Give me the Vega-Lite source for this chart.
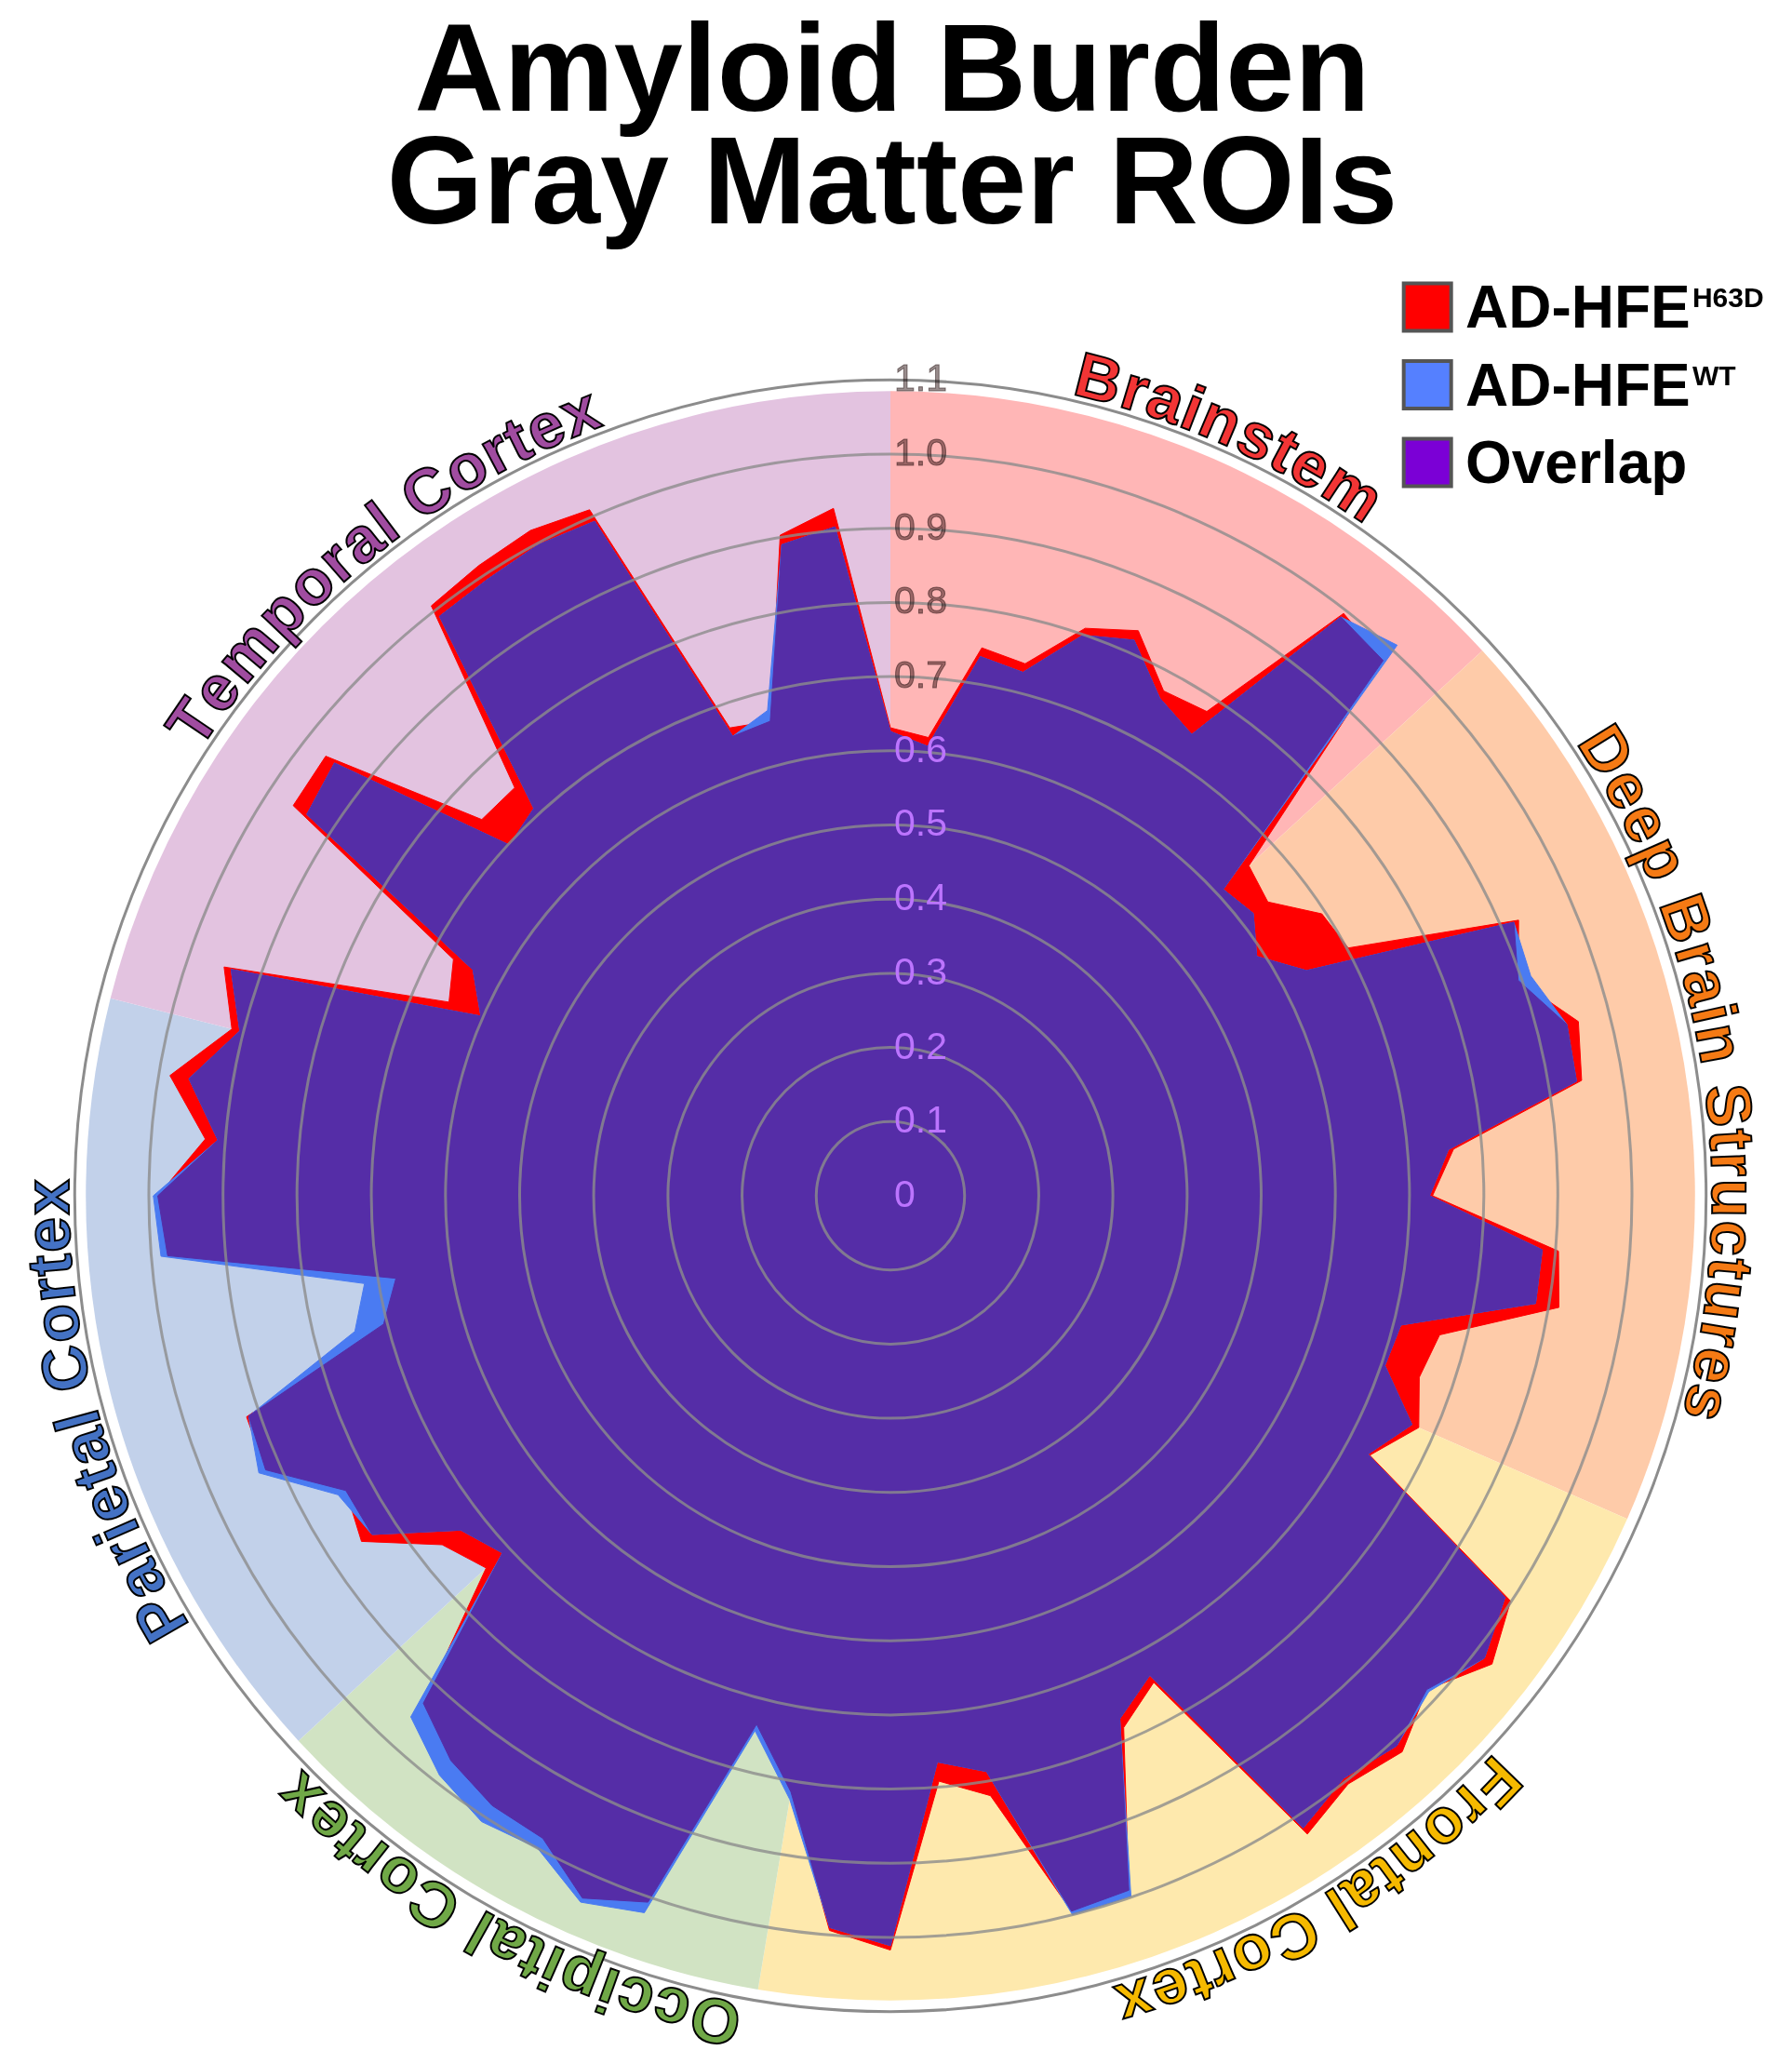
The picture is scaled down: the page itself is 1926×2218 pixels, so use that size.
{
  "$schema": "https://vega.github.io/schema/vega-lite/v6.json",
  "width": 1926,
  "height": 2218,
  "autosize": {"type": "none"},
  "padding": 0,
  "background": "white",
  "config": {"view": {"stroke": null}},
  "title": {
    "text": ["Amyloid Burden", "Gray Matter ROIs"],
    "font": "Liberation Sans",
    "fontSize": 133,
    "fontWeight": "bold",
    "color": "#000000",
    "anchor": "middle",
    "frame": "group",
    "offset": 0,
    "baseline": "alphabetic",
    "lineHeight": 121,
    "dx": -4,
    "dy": 373
  },
  "datasets": {
    "roi": [
      {"k": 0, "h": 0.631, "w": 0.626}, {"k": 1, "h": 0.620, "w": 0.608}, {"k": 2, "h": 0.749, "w": 0.737}, {"k": 3, "h": 0.740, "w": 0.728},
      {"k": 4, "h": 0.809, "w": 0.799}, {"k": 5, "h": 0.832, "w": 0.818}, {"k": 6, "h": 0.774, "w": 0.763}, {"k": 7, "h": 0.780, "w": 0.743},
      {"k": 8, "h": 0.995, "w": 0.989}, {"k": 9, "h": 0.981, "w": 1.009}, {"k": 10, "h": 0.657, "w": 0.610}, {"k": 11, "h": 0.645, "w": 0.620},
      {"k": 12, "h": 0.695, "w": 0.590}, {"k": 13, "h": 0.702, "w": 0.638}, {"k": 14, "h": 0.925, "w": 0.918}, {"k": 15, "h": 0.895, "w": 0.913},
      {"k": 16, "h": 0.957, "w": 0.941}, {"k": 17, "h": 0.945, "w": 0.938}, {"k": 18, "h": 0.762, "w": 0.755}, {"k": 19, "h": 0.731, "w": 0.727},
      {"k": 20, "h": 0.904, "w": 0.882}, {"k": 21, "h": 0.914, "w": 0.882}, {"k": 22, "h": 0.764, "w": 0.710}, {"k": 23, "h": 0.754, "w": 0.705},
      {"k": 24, "h": 0.778, "w": 0.768}, {"k": 25, "h": 0.735, "w": 0.732}, {"k": 26, "h": 0.999, "w": 0.990}, {"k": 27, "h": 1.028, "w": 1.015},
      {"k": 28, "h": 0.983, "w": 0.987}, {"k": 29, "h": 1.019, "w": 1.008}, {"k": 30, "h": 1.005, "w": 0.995}, {"k": 31, "h": 1.028, "w": 1.018},
      {"k": 32, "h": 0.746, "w": 0.735}, {"k": 33, "h": 0.783, "w": 0.770}, {"k": 34, "h": 0.990, "w": 0.999}, {"k": 35, "h": 0.995, "w": 1.000},
      {"k": 36, "h": 0.820, "w": 0.787}, {"k": 37, "h": 0.792, "w": 0.766}, {"k": 38, "h": 1.017, "w": 1.011}, {"k": 39, "h": 0.994, "w": 0.990},
      {"k": 40, "h": 0.815, "w": 0.825}, {"k": 41, "h": 0.735, "w": 0.744}, {"k": 42, "h": 1.007, "w": 1.022}, {"k": 43, "h": 1.034, "w": 1.040},
      {"k": 44, "h": 0.985, "w": 1.000}, {"k": 45, "h": 0.982, "w": 1.008}, {"k": 46, "h": 0.965, "w": 0.990}, {"k": 47, "h": 0.930, "w": 0.955},
      {"k": 48, "h": 0.741, "w": 0.711}, {"k": 49, "h": 0.766, "w": 0.734}, {"k": 50, "h": 0.852, "w": 0.835}, {"k": 51, "h": 0.835, "w": 0.847},
      {"k": 52, "h": 0.920, "w": 0.930}, {"k": 53, "h": 0.918, "w": 0.915}, {"k": 54, "h": 0.705, "w": 0.745}, {"k": 55, "h": 0.676, "w": 0.719},
      {"k": 56, "h": 0.978, "w": 0.987}, {"k": 57, "h": 0.988, "w": 0.994}, {"k": 58, "h": 0.927, "w": 0.910}, {"k": 59, "h": 0.985, "w": 0.959},
      {"k": 60, "h": 0.916, "w": 0.905}, {"k": 61, "h": 0.950, "w": 0.940}, {"k": 62, "h": 0.650, "w": 0.603}, {"k": 63, "h": 0.670, "w": 0.640},
      {"k": 64, "h": 0.962, "w": 0.940}, {"k": 65, "h": 0.965, "w": 0.950}, {"k": 66, "h": 0.749, "w": 0.698}, {"k": 67, "h": 0.748, "w": 0.710},
      {"k": 68, "h": 1.008, "w": 0.990}, {"k": 69, "h": 1.015, "w": 0.993}, {"k": 70, "h": 1.020, "w": 0.998}, {"k": 71, "h": 1.010, "w": 0.993},
      {"k": 72, "h": 0.667, "w": 0.655}, {"k": 73, "h": 0.660, "w": 0.675}, {"k": 74, "h": 0.903, "w": 0.890}, {"k": 75, "h": 0.930, "w": 0.905}
    ],
    "sectors": [
      {"region": "Brainstem", "k0": 0, "k1": 10},
      {"region": "Deep Brain Structures", "k0": 10, "k1": 24},
      {"region": "Frontal Cortex", "k0": 24, "k1": 40},
      {"region": "Occipital Cortex", "k0": 40, "k1": 48},
      {"region": "Parietal Cortex", "k0": 48, "k1": 60},
      {"region": "Temporal Cortex", "k0": 60, "k1": 76}
    ],
    "rings": [
      {"lv": 0, "t": "0"}, {"lv": 0.1, "t": "0.1"}, {"lv": 0.2, "t": "0.2"}, {"lv": 0.3, "t": "0.3"},
      {"lv": 0.4, "t": "0.4"}, {"lv": 0.5, "t": "0.5"}, {"lv": 0.6, "t": "0.6"}, {"lv": 0.7, "t": "0.7"},
      {"lv": 0.8, "t": "0.8"}, {"lv": 0.9, "t": "0.9"}, {"lv": 1.0, "t": "1.0"}, {"lv": 1.1, "t": "1.1"}
    ],
    "chars": [
      {"g": "Brainstem", "c": "B", "a": 14.31}, {"g": "Brainstem", "c": "r", "a": 16.89}, {"g": "Brainstem", "c": "a", "a": 19.09},
      {"g": "Brainstem", "c": "i", "a": 21.03}, {"g": "Brainstem", "c": "n", "a": 23.10}, {"g": "Brainstem", "c": "s", "a": 25.81},
      {"g": "Brainstem", "c": "t", "a": 27.88}, {"g": "Brainstem", "c": "e", "a": 29.94}, {"g": "Brainstem", "c": "m", "a": 33.30},
      {"g": "Deep Brain Structures", "c": "D", "a": 58.13}, {"g": "Deep Brain Structures", "c": "e", "a": 61.10},
      {"g": "Deep Brain Structures", "c": "e", "a": 63.69}, {"g": "Deep Brain Structures", "c": "p", "a": 66.40},
      {"g": "Deep Brain Structures", "c": "B", "a": 70.79}, {"g": "Deep Brain Structures", "c": "r", "a": 73.38},
      {"g": "Deep Brain Structures", "c": "a", "a": 75.57}, {"g": "Deep Brain Structures", "c": "i", "a": 77.51},
      {"g": "Deep Brain Structures", "c": "n", "a": 79.58}, {"g": "Deep Brain Structures", "c": "S", "a": 83.84},
      {"g": "Deep Brain Structures", "c": "t", "a": 86.17}, {"g": "Deep Brain Structures", "c": "r", "a": 87.85},
      {"g": "Deep Brain Structures", "c": "u", "a": 90.17}, {"g": "Deep Brain Structures", "c": "c", "a": 92.89},
      {"g": "Deep Brain Structures", "c": "t", "a": 94.95}, {"g": "Deep Brain Structures", "c": "u", "a": 97.15},
      {"g": "Deep Brain Structures", "c": "r", "a": 99.47}, {"g": "Deep Brain Structures", "c": "e", "a": 101.67},
      {"g": "Deep Brain Structures", "c": "s", "a": 104.25},
      {"g": "Frontal Cortex", "c": "F", "a": 134.03}, {"g": "Frontal Cortex", "c": "r", "a": 136.36}, {"g": "Frontal Cortex", "c": "o", "a": 138.68},
      {"g": "Frontal Cortex", "c": "n", "a": 141.52}, {"g": "Frontal Cortex", "c": "t", "a": 143.72}, {"g": "Frontal Cortex", "c": "a", "a": 145.78},
      {"g": "Frontal Cortex", "c": "l", "a": 147.72}, {"g": "Frontal Cortex", "c": "C", "a": 151.34}, {"g": "Frontal Cortex", "c": "o", "a": 154.44},
      {"g": "Frontal Cortex", "c": "r", "a": 156.77}, {"g": "Frontal Cortex", "c": "t", "a": 158.44}, {"g": "Frontal Cortex", "c": "e", "a": 160.51},
      {"g": "Frontal Cortex", "c": "x", "a": 163.10},
      {"g": "Occipital Cortex", "c": "O", "a": 191.98}, {"g": "Occipital Cortex", "c": "c", "a": 195.08}, {"g": "Occipital Cortex", "c": "c", "a": 197.67},
      {"g": "Occipital Cortex", "c": "i", "a": 199.60}, {"g": "Occipital Cortex", "c": "p", "a": 201.67}, {"g": "Occipital Cortex", "c": "i", "a": 203.74},
      {"g": "Occipital Cortex", "c": "t", "a": 205.16}, {"g": "Occipital Cortex", "c": "a", "a": 207.23}, {"g": "Occipital Cortex", "c": "l", "a": 209.16},
      {"g": "Occipital Cortex", "c": "C", "a": 212.78}, {"g": "Occipital Cortex", "c": "o", "a": 215.88}, {"g": "Occipital Cortex", "c": "r", "a": 218.21},
      {"g": "Occipital Cortex", "c": "t", "a": 219.89}, {"g": "Occipital Cortex", "c": "e", "a": 221.95}, {"g": "Occipital Cortex", "c": "x", "a": 224.54},
      {"g": "Parietal Cortex", "c": "P", "a": 239.94}, {"g": "Parietal Cortex", "c": "a", "a": 242.78}, {"g": "Parietal Cortex", "c": "r", "a": 244.98},
      {"g": "Parietal Cortex", "c": "i", "a": 246.53}, {"g": "Parietal Cortex", "c": "e", "a": 248.47}, {"g": "Parietal Cortex", "c": "t", "a": 250.54},
      {"g": "Parietal Cortex", "c": "a", "a": 252.61}, {"g": "Parietal Cortex", "c": "l", "a": 254.54}, {"g": "Parietal Cortex", "c": "C", "a": 258.16},
      {"g": "Parietal Cortex", "c": "o", "a": 261.26}, {"g": "Parietal Cortex", "c": "r", "a": 263.59}, {"g": "Parietal Cortex", "c": "t", "a": 265.27},
      {"g": "Parietal Cortex", "c": "e", "a": 267.33}, {"g": "Parietal Cortex", "c": "x", "a": 269.92},
      {"g": "Temporal Cortex", "c": "T", "a": 304.15}, {"g": "Temporal Cortex", "c": "e", "a": 306.86}, {"g": "Temporal Cortex", "c": "m", "a": 310.22},
      {"g": "Temporal Cortex", "c": "p", "a": 313.71}, {"g": "Temporal Cortex", "c": "o", "a": 316.55}, {"g": "Temporal Cortex", "c": "r", "a": 318.87},
      {"g": "Temporal Cortex", "c": "a", "a": 321.07}, {"g": "Temporal Cortex", "c": "l", "a": 323.01}, {"g": "Temporal Cortex", "c": "C", "a": 326.63},
      {"g": "Temporal Cortex", "c": "o", "a": 329.73}, {"g": "Temporal Cortex", "c": "r", "a": 332.05}, {"g": "Temporal Cortex", "c": "t", "a": 333.73},
      {"g": "Temporal Cortex", "c": "e", "a": 335.80}, {"g": "Temporal Cortex", "c": "x", "a": 338.38}
    ],
    "legend": [
      {"item": "H63D", "name": "AD-HFE", "sup": "H63D"},
      {"item": "WT", "name": "AD-HFE", "sup": "WT"},
      {"item": "Overlap", "name": "Overlap", "sup": ""}
    ]
  },
  "resolve": {"scale": {"y": "independent", "color": "independent"}},
  "layer": [
    {
      "data": {"name": "sectors"},
      "transform": [
        {"calculate": "datum.k0 * 360 / 76", "as": "a0"},
        {"calculate": "datum.k1 * 360 / 76", "as": "a1"}
      ],
      "mark": {"type": "arc", "strokeWidth": 0},
      "encoding": {
        "x": {"datum": 0, "type": "quantitative", "scale": {"domain": [-1.20075, 1.21581], "nice": false, "zero": false}, "axis": null},
        "y": {"datum": 0, "type": "quantitative", "scale": {"domain": [-1.17064, 1.61229], "nice": false, "zero": false}, "axis": null},
        "theta": {"field": "a0", "type": "quantitative", "stack": null, "scale": {"domain": [0, 360], "range": [0, 6.283185307179586]}},
        "theta2": {"field": "a1"},
        "radius": {"datum": 1.085, "type": "quantitative", "stack": null, "scale": {"type": "linear", "domain": [0, 1], "range": [0, 797], "zero": true, "nice": false}},
        "color": {
          "field": "region", "type": "nominal", "legend": null,
          "scale": {
            "domain": ["Brainstem", "Deep Brain Structures", "Frontal Cortex", "Occipital Cortex", "Parietal Cortex", "Temporal Cortex"],
            "range": ["#ffb6b6", "#fecba9", "#fee9ad", "#d1e3c3", "#c2d1ea", "#e3c3e0"]
          }
        }
      }
    },
    {
      "data": {"name": "roi"},
      "transform": [
        {"calculate": "datum.k * 2 * PI / 76", "as": "t"},
        {"calculate": "min(datum.h, datum.w)", "as": "m"},
        {"calculate": "datum.h * sin(datum.t)", "as": "hx"},
        {"calculate": "datum.h * cos(datum.t)", "as": "hy"},
        {"calculate": "datum.w * sin(datum.t)", "as": "wx"},
        {"calculate": "datum.w * cos(datum.t)", "as": "wy"},
        {"calculate": "datum.m * sin(datum.t)", "as": "mx"},
        {"calculate": "datum.m * cos(datum.t)", "as": "my"}
      ],
      "layer": [
        {
          "mark": {"type": "line", "interpolate": "linear-closed", "fill": "#ff0000", "stroke": "#ff0000", "strokeWidth": 1},
          "encoding": {
            "x": {"field": "hx", "type": "quantitative", "scale": {"domain": [-1.20075, 1.21581], "nice": false, "zero": false}, "axis": null},
            "y": {"field": "hy", "type": "quantitative", "scale": {"domain": [-1.17064, 1.61229], "nice": false, "zero": false}, "axis": null},
            "order": {"field": "k", "type": "quantitative"}
          }
        },
        {
          "mark": {"type": "line", "interpolate": "linear-closed", "fill": "#4a7bf2", "stroke": "#4a7bf2", "strokeWidth": 1},
          "encoding": {
            "x": {"field": "wx", "type": "quantitative", "scale": {"domain": [-1.20075, 1.21581], "nice": false, "zero": false}, "axis": null},
            "y": {"field": "wy", "type": "quantitative", "scale": {"domain": [-1.17064, 1.61229], "nice": false, "zero": false}, "axis": null},
            "order": {"field": "k", "type": "quantitative"}
          }
        },
        {
          "mark": {"type": "line", "interpolate": "linear-closed", "fill": "#552da7", "stroke": "#552da7", "strokeWidth": 1},
          "encoding": {
            "x": {"field": "mx", "type": "quantitative", "scale": {"domain": [-1.20075, 1.21581], "nice": false, "zero": false}, "axis": null},
            "y": {"field": "my", "type": "quantitative", "scale": {"domain": [-1.17064, 1.61229], "nice": false, "zero": false}, "axis": null},
            "order": {"field": "k", "type": "quantitative"}
          }
        }
      ]
    },
    {
      "data": {"name": "rings"},
      "transform": [{"filter": "datum.lv > 0"}],
      "mark": {"type": "arc", "theta": 0, "theta2": 6.283185307179586, "filled": false, "stroke": "#8c8c8c", "strokeWidth": 3},
      "encoding": {
        "x": {"datum": 0, "type": "quantitative", "scale": {"domain": [-1.20075, 1.21581], "nice": false, "zero": false}, "axis": null},
        "y": {"datum": 0, "type": "quantitative", "scale": {"domain": [-1.17064, 1.61229], "nice": false, "zero": false}, "axis": null},
        "radius": {"field": "lv", "type": "quantitative", "stack": null, "scale": {"type": "linear", "domain": [0, 1], "range": [0, 797], "zero": true, "nice": false}},
        "strokeOpacity": {"condition": {"test": "datum.lv > 1.05", "value": 1}, "value": 0.8}
      }
    },
    {
      "data": {"name": "rings"},
      "transform": [{"filter": "datum.lv < 0.65"}],
      "mark": {"type": "text", "align": "left", "baseline": "middle", "dx": 4, "font": "Liberation Sans", "fontSize": 41, "fill": "#bc74ff"},
      "encoding": {
        "x": {"datum": 0, "type": "quantitative", "scale": {"domain": [-1.20075, 1.21581], "nice": false, "zero": false}, "axis": null},
        "y": {"field": "lv", "type": "quantitative", "scale": {"domain": [-1.17064, 1.61229], "nice": false, "zero": false}, "axis": null},
        "text": {"field": "t"}
      }
    },
    {
      "data": {"name": "rings"},
      "transform": [{"filter": "datum.lv > 0.65"}],
      "mark": {"type": "text", "align": "left", "baseline": "middle", "dx": 4, "font": "Liberation Sans", "fontSize": 41, "fill": "#9a8e8e", "stroke": "#3a2a2a", "strokeWidth": 1, "strokeOpacity": 0.6, "blend": "multiply"},
      "encoding": {
        "x": {"datum": 0, "type": "quantitative", "scale": {"domain": [-1.20075, 1.21581], "nice": false, "zero": false}, "axis": null},
        "y": {"field": "lv", "type": "quantitative", "scale": {"domain": [-1.17064, 1.61229], "nice": false, "zero": false}, "axis": null},
        "text": {"field": "t"}
      }
    },
    {
      "data": {"name": "chars"},
      "mark": {"type": "text", "align": "center", "baseline": "alphabetic", "font": "Liberation Sans", "fontWeight": "bold", "fontSize": 68, "stroke": "#000000", "strokeWidth": 2},
      "encoding": {
        "x": {"datum": 0, "type": "quantitative", "scale": {"domain": [-1.20075, 1.21581], "nice": false, "zero": false}, "axis": null},
        "y": {"datum": 0, "type": "quantitative", "scale": {"domain": [-1.17064, 1.61229], "nice": false, "zero": false}, "axis": null},
        "theta": {"field": "a", "type": "quantitative", "stack": null, "scale": {"domain": [0, 360], "range": [0, 6.283185307179586]}},
        "radius": {"datum": 1.108, "type": "quantitative", "stack": null, "scale": {"type": "linear", "domain": [0, 1], "range": [0, 797], "zero": true, "nice": false}},
        "angle": {"field": "a", "type": "quantitative", "scale": {"domain": [0, 360], "range": [0, 360]}},
        "text": {"field": "c"},
        "fill": {
          "field": "g", "type": "nominal", "legend": null,
          "scale": {
            "domain": ["Brainstem", "Deep Brain Structures", "Frontal Cortex", "Occipital Cortex", "Parietal Cortex", "Temporal Cortex"],
            "range": ["#f23535", "#f57a14", "#f5b900", "#70a847", "#4472c4", "#a04ca0"]
          }
        }
      }
    },
    {
      "data": {"name": "legend"},
      "mark": {"type": "square", "size": 2601, "filled": true, "stroke": "#555555", "strokeWidth": 4, "opacity": 1},
      "encoding": {
        "x": {"datum": 0.7242, "type": "quantitative", "scale": {"domain": [-1.20075, 1.21581], "nice": false, "zero": false}, "axis": null},
        "y": {"field": "item", "type": "nominal", "sort": ["H63D", "WT", "Overlap"], "scale": {"type": "point", "domain": ["H63D", "WT", "Overlap"], "range": [330, 497], "padding": 0}, "axis": null},
        "color": {"field": "item", "type": "nominal", "legend": null, "scale": {"domain": ["H63D", "WT", "Overlap"], "range": ["#ff0000", "#5580ff", "#7b00d6"]}}
      }
    },
    {
      "data": {"name": "legend"},
      "mark": {"type": "text", "align": "left", "baseline": "alphabetic", "dy": 22, "font": "Liberation Sans", "fontWeight": "bold", "fontSize": 64, "fill": "#000000"},
      "encoding": {
        "x": {"datum": 0.7754, "type": "quantitative", "scale": {"domain": [-1.20075, 1.21581], "nice": false, "zero": false}, "axis": null},
        "y": {"field": "item", "type": "nominal", "sort": ["H63D", "WT", "Overlap"], "scale": {"type": "point", "domain": ["H63D", "WT", "Overlap"], "range": [330, 497], "padding": 0}, "axis": null},
        "text": {"field": "name"}
      }
    },
    {
      "data": {"name": "legend"},
      "mark": {"type": "text", "align": "left", "baseline": "alphabetic", "dy": 0, "font": "Liberation Sans", "fontWeight": "bold", "fontSize": 30, "fill": "#000000"},
      "encoding": {
        "x": {"datum": 1.0815, "type": "quantitative", "scale": {"domain": [-1.20075, 1.21581], "nice": false, "zero": false}, "axis": null},
        "y": {"field": "item", "type": "nominal", "sort": ["H63D", "WT", "Overlap"], "scale": {"type": "point", "domain": ["H63D", "WT", "Overlap"], "range": [330, 497], "padding": 0}, "axis": null},
        "text": {"field": "sup"}
      }
    }
  ]
}
